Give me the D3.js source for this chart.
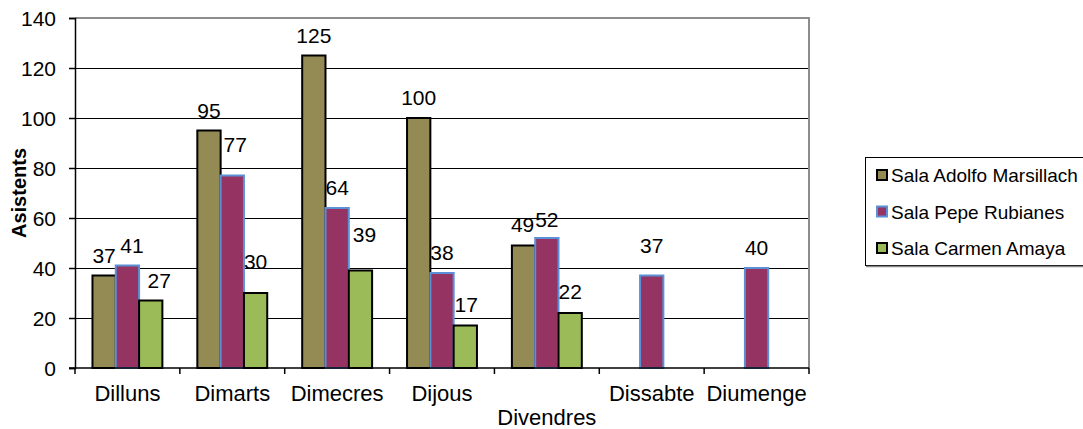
<!DOCTYPE html>
<html>
<head>
<meta charset="utf-8">
<script src="https://cdn.jsdelivr.net/npm/d3@7"></script>
<style>
  html, body { margin: 0; padding: 0; background: #fff; }
  svg { display: block; font-family: "Liberation Sans", Arial, sans-serif; }
</style>
</head>
<body>
<svg id="chart" width="1083" height="429"></svg>
<script>
// ---- data ----
const categories = ["Dilluns", "Dimarts", "Dimecres", "Dijous", "Divendres", "Dissabte", "Diumenge"];
const seriesNames = ["Sala Adolfo Marsillach", "Sala Pepe Rubianes", "Sala Carmen Amaya"];
const adolfoValues = [37, 95, 125, 100, 49, null, null];
const pepeValues   = [41, 77, 64, 38, 52, 37, 40];
const carmenValues = [27, 30, 39, 17, 22, null, null];
const yTicks = [0, 20, 40, 60, 80, 100, 120, 140];
const yLabel = "Asistents";

// ---- styling / layout (not data) ----
const fills   = ["#948A54", "#953463", "#9BBB59"];
const strokes = ["#000000", "#5B8FD6", "#000000"];
// manual label nudges (dx, extra gap) as in the original chart
const labelNudge = [
  [[0, 0], [0, 0], [0, 0], [0, 0], [-1, 1], [0, 0], [0, 0]],
  [[4.5, 0], [3, 10.5], [0, 0], [0, 0], [0, -2], [0, 10], [0, 0]],
  [[8.5, 0], [0, 11], [4, 16], [1, 1], [0, 1], [0, 0], [0, 0]]
];

const svg = d3.select("#chart");
const plot = { left: 75, right: 809, top: 18, bottom: 368 };

const x = d3.scaleBand().domain(categories).range([plot.left, plot.right]).paddingInner(0).paddingOuter(0);
const y = d3.scaleLinear().domain([0, 140]).range([plot.bottom, plot.top]);
const barW = x.bandwidth() / 4.5;
const groupOffset = (x.bandwidth() - 3 * barW) / 2;

const allSeries = [adolfoValues, pepeValues, carmenValues];

// gridlines
svg.append("g").selectAll("line").data(yTicks.filter(t => t > 0 && t < 140)).join("line")
  .attr("x1", plot.left).attr("x2", plot.right)
  .attr("y1", d => y(d)).attr("y2", d => y(d))
  .attr("stroke", "#000").attr("stroke-width", 1).attr("shape-rendering", "crispEdges");

// plot border top/right (grey)
svg.append("path")
  .attr("d", `M${plot.left},${y(140)}H${plot.right}V${plot.bottom}`)
  .attr("fill", "none").attr("stroke", "#8c8c8c").attr("stroke-width", 2);

// bars
allSeries.forEach((vals, si) => {
  const g = svg.append("g");
  const data = categories.map((c, i) => ({ c, i, v: vals[i] })).filter(d => d.v != null);
  g.selectAll("rect").data(data).join("rect")
    .attr("x", d => x(d.c) + groupOffset + si * barW)
    .attr("y", d => y(d.v))
    .attr("width", barW)
    .attr("height", d => y(0) - y(d.v))
    .attr("fill", fills[si])
    .attr("stroke", strokes[si])
    .attr("stroke-width", 2);
  g.selectAll("text").data(data).join("text")
    .attr("x", d => x(d.c) + groupOffset + si * barW + barW / 2 + labelNudge[si][d.i][0])
    .attr("y", d => y(d.v) - 13 - labelNudge[si][d.i][1])
    .attr("text-anchor", "middle")
    .attr("font-size", 21)
    .attr("fill", "#000")
    .text(d => d.v);
});

// y axis
const yAxis = d3.axisLeft(y).tickValues(yTicks).tickSize(6).tickPadding(13);
const yg = svg.append("g").attr("transform", `translate(${plot.left},0)`).call(yAxis);
yg.select(".domain").attr("stroke", "#000").attr("stroke-width", 1.5);
yg.selectAll(".tick line").attr("stroke", "#000").attr("stroke-width", 1.5);
yg.selectAll(".tick text").attr("font-size", 21).attr("fill", "#000")
  .attr("font-family", "Liberation Sans, Arial, sans-serif").attr("dy", "0.36em");

// x axis
const xg = svg.append("g").attr("transform", `translate(0,${plot.bottom})`);
xg.append("line").attr("x1", plot.left - 6).attr("x2", plot.right)
  .attr("y1", 0).attr("y2", 0).attr("stroke", "#000").attr("stroke-width", 1.5);
const bounds = categories.map(c => x(c)).concat([plot.right]);
xg.selectAll("line.tk").data(bounds).join("line").attr("class", "tk")
  .attr("x1", d => d).attr("x2", d => d).attr("y1", 0).attr("y2", 6)
  .attr("stroke", "#000").attr("stroke-width", 1.5);
xg.selectAll("text").data(categories).join("text")
  .attr("x", d => x(d) + x.bandwidth() / 2)
  .attr("y", (d, i) => i === 4 ? 57 : 33)
  .attr("text-anchor", "middle").attr("font-size", 22).attr("fill", "#000")
  .text(d => d);

// y label
svg.append("text")
  .attr("transform", `translate(26,${(plot.top + plot.bottom) / 2}) rotate(-90)`)
  .attr("text-anchor", "middle").attr("font-size", 20).attr("font-weight", "bold")
  .text(yLabel);

// legend
const lg = svg.append("g");
lg.append("rect").attr("x", 865.5).attr("y", 157.5).attr("width", 230).attr("height", 108)
  .attr("fill", "#fff").attr("stroke", "#000").attr("stroke-width", 1);
lg.append("line").attr("x1", 866).attr("x2", 1083).attr("y1", 266.5).attr("y2", 266.5)
  .attr("stroke", "#888").attr("stroke-width", 1.5);
seriesNames.forEach((n, i) => {
  const cy = 175 + i * 36.5;
  lg.append("rect").attr("x", 877).attr("y", cy - 5).attr("width", 10).attr("height", 10)
    .attr("fill", fills[i]).attr("stroke", strokes[i]).attr("stroke-width", 2);
  lg.append("text").attr("x", 891).attr("y", cy + 7).attr("font-size", 19).attr("fill", "#000").text(n);
});
</script>
</body>
</html>
